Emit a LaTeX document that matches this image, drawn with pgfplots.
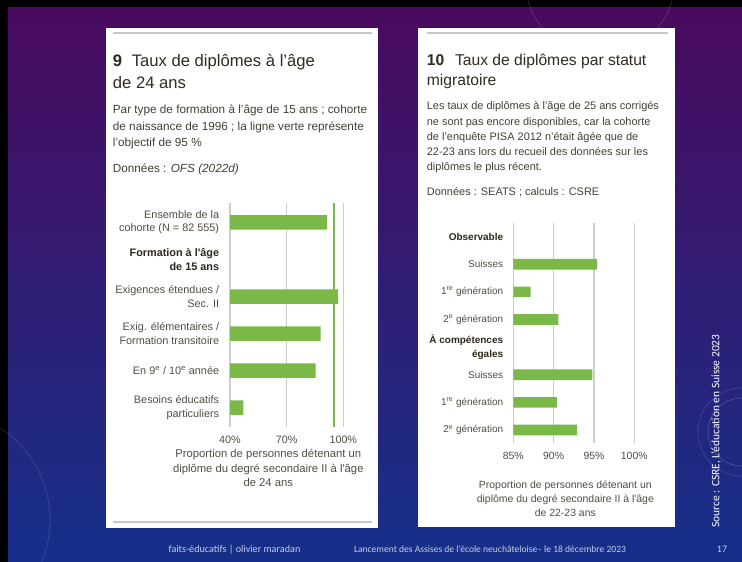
\documentclass[border=0pt]{standalone}
\usepackage{fontspec}
\setmainfont{Liberation Sans}
\newfontfamily\carlito{Carlito}
\usepackage{pgfplots}
\pgfplotsset{compat=1.18}
\definecolor{bgtop}{RGB}{74,10,94}
\definecolor{bgmid}{RGB}{48,30,118}
\definecolor{bgbot}{RGB}{22,48,138}
\definecolor{barg}{RGB}{122,185,72}
\definecolor{gridgray}{RGB}{205,205,205}
\definecolor{rulegray}{RGB}{200,200,200}
\definecolor{ttl}{RGB}{48,44,34}
\definecolor{body}{RGB}{68,64,54}
\definecolor{lbl}{RGB}{82,78,68}
\definecolor{lblb}{RGB}{44,40,30}
\definecolor{foot}{RGB}{200,205,222}
\begin{document}
\begin{tikzpicture}
\useasboundingbox (0,0) rectangle (742bp,-562bp);
\begin{scope}[x=1bp,y=-1bp]
\fill[black] (0,0) rectangle (742,562);
\shade[top color=bgtop, middle color=bgmid, bottom color=bgbot] (8,7) rectangle (742,562);
% faint decorative arcs
\draw[white, opacity=0.18, line width=0.8bp] (742,432) circle (34);
\draw[white, opacity=0.12, line width=0.8bp] (742,432) circle (44);
\draw[white, opacity=0.15, line width=0.8bp] (600,-20) circle (75);
\draw[white, opacity=0.12, line width=0.8bp] (-60,520) circle (110);
% panels
\fill[white] (106,28) rectangle (378,528);
\fill[white] (418,28) rectangle (675,527);
\draw[rulegray, line width=2bp] (112.7,33.3) -- (371.7,33.3);
\draw[rulegray, line width=2bp] (426.7,33.3) -- (667.7,33.3);
\draw[rulegray, line width=2bp] (112.7,521.7) -- (371.7,521.7);
% left texts
\node[anchor=base west, inner sep=0, text=ttl, font=\fontsize{16.7}{20}\selectfont] at (112.7,66) {\textbf{9}\hspace{9.7bp}Taux de diplômes à l’âge};
\node[anchor=base west, inner sep=0, text=ttl, font=\fontsize{16.7}{20}\selectfont] at (112.7,88.3) {de 24 ans};
\begin{scope}[every node/.style={anchor=base west, inner sep=0, text=body, font=\fontsize{11.8}{14}\selectfont}]
\node at (112.7,113.3) {Par type de formation à l’âge de 15 ans ; cohorte};
\node at (112.7,130) {de naissance de 1996 ; la ligne verte représente};
\node at (112.7,146.7) {l’objectif de 95 \%};
\node at (112.7,172.7) {Données : \textit{OFS (2022d)}};
\end{scope}
% right texts
\node[anchor=base west, inner sep=0, text=ttl, font=\fontsize{15.7}{20}\selectfont] at (426.7,65) {\textbf{10}\hspace{10.8bp}Taux de diplômes par statut};
\node[anchor=base west, inner sep=0, text=ttl, font=\fontsize{15.7}{20}\selectfont] at (426.7,85) {migratoire};
\begin{scope}[every node/.style={anchor=base west, inner sep=0, text=body, font=\fontsize{11}{14}\selectfont}]
\node at (426.7,109.3) {Les taux de diplômes à l’âge de 25 ans corrigés};
\node at (426.7,125) {ne sont pas encore disponibles, car la cohorte};
\node at (426.7,140) {de l’enquête PISA 2012 n’était âgée que de};
\node at (426.7,155) {22-23 ans lors du recueil des données sur les};
\node at (426.7,170) {diplômes le plus récent.};
\node at (426.7,195.7) {Données : SEATS ; calculs : CSRE};
\end{scope}
% footer
\node[anchor=base, inner sep=0, text=foot, font=\carlito\fontsize{10.2}{12}\selectfont] at (234.5,552) {faits-éducatifs | olivier maradan};
\node[anchor=base, inner sep=0, text=foot, font=\carlito\fontsize{9.6}{12}\selectfont] at (490,552) {Lancement des Assises de l’école neuchâteloise– le 18 décembre 2023};
\node[anchor=base, inner sep=0, text=foot, font=\carlito\fontsize{10}{12}\selectfont] at (722,552) {17};
\node[rotate=90, inner sep=0, text=white, font=\carlito\fontsize{11.5}{13}\selectfont] at (716,431) {Source : CSRE, L’éducation en Suisse 2023};
\end{scope}

% ---------- left chart ----------
\begin{axis}[
  at={(230bp,-427bp)}, anchor=south west,
  scale only axis, width=113.3bp, height=224.1bp,
  xmin=40, xmax=100, ymin=-0.526, ymax=5.52, y dir=reverse,
  axis line style={draw=none},
  major tick length=0pt,
  xtick={40,70,100}, xticklabels={40\%,70\%,100\%},
  xmajorgrids, grid style={draw=gridgray, line width=1.3bp},
  ytick={0,1,2,3,4,5},
  yticklabels={{Ensemble de la\\cohorte (N = 82~555)},
    {\textbf{\color{lblb}Formation à l\textquotesingle âge}\\\textbf{\color{lblb}de 15 ans}},
    {Exigences étendues /\\Sec. II},
    {Exig. élémentaires /\\Formation transitoire},
    {En 9\textsuperscript{e} / 10\textsuperscript{e} année},
    {Besoins éducatifs\\particuliers}},
  yticklabel style={align=right, font=\fontsize{10.9}{13.3}\selectfont, text=lbl, inner sep=0pt, xshift=-10.7bp},
  xticklabel style={font=\fontsize{10.8}{13}\selectfont, text=lbl, inner sep=0pt, yshift=-8.5bp},
  xlabel={Proportion de personnes détenant un\\diplôme du degré secondaire II à l\textquotesingle âge\\de 24 ans},
  xlabel style={at={(axis description cs:0.338,0)}, anchor=north, yshift=-22.5bp, align=center,
    font=\fontsize{11.3}{14.5}\selectfont, text=lbl, inner sep=0pt},
]
\addplot[xbar, bar width=14.5bp, fill=barg, draw=none] coordinates {(91.5,0) (97.3,2) (88.0,3) (85.3,4) (47.1,5)};
\addplot[barg, line width=1.4bp, mark=none] coordinates {(95,-0.526) (95,5.52)};
\end{axis}

% ---------- right chart ----------
\begin{axis}[
  at={(513.3bp,-443bp)}, anchor=south west,
  scale only axis, width=121bp, height=220.2bp,
  xmin=85, xmax=100, ymin=-0.5, ymax=7.47, y dir=reverse,
  axis line style={draw=none},
  major tick length=0pt,
  xtick={85,90,95,100}, xticklabels={85\%,90\%,95\%,100\%},
  xmajorgrids, grid style={draw=gridgray, line width=1.3bp},
  ytick={0,1,2,3,4,5,6,7},
  yticklabels={{\textbf{\color{lblb}Observable}},
    {Suisses},
    {1\textsuperscript{re} génération},
    {2\textsuperscript{e} génération},
    {\textbf{\color{lblb}À compétences}\\\textbf{\color{lblb}égales}},
    {Suisses},
    {1\textsuperscript{re} génération},
    {2\textsuperscript{e} génération}},
  yticklabel style={align=right, font=\fontsize{10}{13.3}\selectfont, text=lbl, inner sep=0pt, xshift=-10bp},
  xticklabel style={font=\fontsize{10.5}{13}\selectfont, text=lbl, inner sep=0pt, yshift=-8.5bp},
  xlabel={Proportion de personnes détenant un\\diplôme du degré secondaire II à l\textquotesingle âge\\de 22-23 ans},
  xlabel style={at={(axis description cs:0.43,0)}, anchor=north, yshift=-38bp, align=center,
    font=\fontsize{10.5}{14}\selectfont, text=lbl, inner sep=0pt},
]
\addplot[xbar, bar width=10.7bp, fill=barg, draw=none] coordinates {(95.4,1) (87.15,2) (90.6,3) (94.8,5) (90.4,6) (92.9,7)};
\end{axis}
\end{tikzpicture}
\end{document}
